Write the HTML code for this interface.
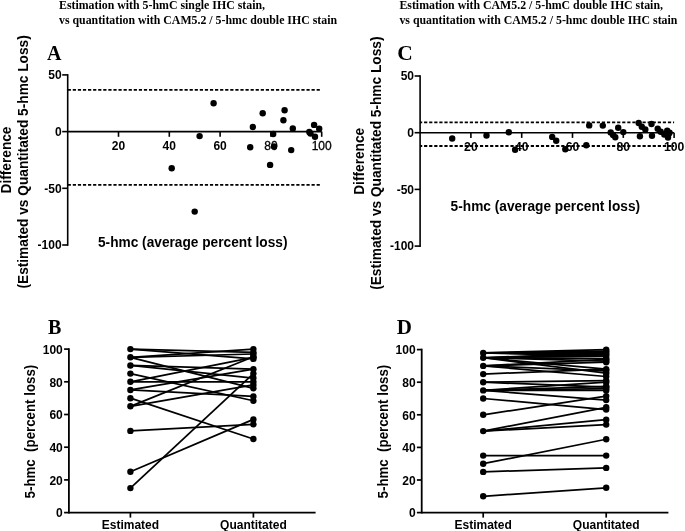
<!DOCTYPE html>
<html><head><meta charset="utf-8"><style>
html,body{margin:0;padding:0;background:#fff;}
svg{display:block;filter:grayscale(1);}
</style></head><body>
<svg width="685" height="531" viewBox="0 0 685 531" stroke="#000" fill="#000">
<rect x="0" y="0" width="685" height="531" fill="#fff" stroke="none"/>
<g stroke="none">
</g>
<text stroke="none" x="59.00" y="9.30" font-size="11.85" text-anchor="start" font-weight="bold" font-family='"Liberation Serif", serif' >Estimation with 5-hmC single IHC stain,</text>
<text stroke="none" x="59.00" y="24.20" font-size="11.85" text-anchor="start" font-weight="bold" font-family='"Liberation Serif", serif' >vs quantitation with CAM5.2 / 5-hmc double IHC stain</text>
<text stroke="none" x="399.40" y="9.30" font-size="11.85" text-anchor="start" font-weight="bold" font-family='"Liberation Serif", serif' >Estimation with CAM5.2 / 5-hmC double IHC stain,</text>
<text stroke="none" x="399.40" y="24.20" font-size="11.85" text-anchor="start" font-weight="bold" font-family='"Liberation Serif", serif' >vs quantitation with CAM5.2 / 5-hmc double IHC stain</text>
<text stroke="none" x="46.90" y="59.80" font-size="20" text-anchor="start" font-weight="bold" font-family='"Liberation Serif", serif' >A</text>
<line x1="67.70" y1="74.90" x2="67.70" y2="245.00" stroke-width="1.6" stroke-linecap="square"/>
<line x1="62.20" y1="74.90" x2="67.70" y2="74.90" stroke-width="1.6" />
<text stroke="none" x="61.60" y="79.20" font-size="12" text-anchor="end" font-weight="bold" font-family='"Liberation Sans", sans-serif' >50</text>
<line x1="62.20" y1="131.60" x2="67.70" y2="131.60" stroke-width="1.6" />
<text stroke="none" x="61.60" y="135.90" font-size="12" text-anchor="end" font-weight="bold" font-family='"Liberation Sans", sans-serif' >0</text>
<line x1="62.20" y1="188.30" x2="67.70" y2="188.30" stroke-width="1.6" />
<text stroke="none" x="61.60" y="192.60" font-size="12" text-anchor="end" font-weight="bold" font-family='"Liberation Sans", sans-serif' >-50</text>
<line x1="62.20" y1="245.00" x2="67.70" y2="245.00" stroke-width="1.6" />
<text stroke="none" x="61.60" y="249.30" font-size="12" text-anchor="end" font-weight="bold" font-family='"Liberation Sans", sans-serif' >-100</text>
<line x1="67.70" y1="131.60" x2="321.70" y2="131.60" stroke-width="1.6" />
<line x1="118.50" y1="131.60" x2="118.50" y2="136.80" stroke-width="1.6" />
<text stroke="none" x="118.50" y="149.60" font-size="12" text-anchor="middle" font-weight="bold" font-family='"Liberation Sans", sans-serif' >20</text>
<line x1="169.30" y1="131.60" x2="169.30" y2="136.80" stroke-width="1.6" />
<text stroke="none" x="169.30" y="149.60" font-size="12" text-anchor="middle" font-weight="bold" font-family='"Liberation Sans", sans-serif' >40</text>
<line x1="220.10" y1="131.60" x2="220.10" y2="136.80" stroke-width="1.6" />
<text stroke="none" x="220.10" y="149.60" font-size="12" text-anchor="middle" font-weight="bold" font-family='"Liberation Sans", sans-serif' >60</text>
<line x1="270.90" y1="131.60" x2="270.90" y2="136.80" stroke-width="1.6" />
<text x="270.90" y="149.60" font-size="12" text-anchor="middle" font-weight="normal" font-family='"Liberation Sans", sans-serif' stroke="#000" stroke-width="0.3">80</text>
<line x1="321.70" y1="131.60" x2="321.70" y2="136.80" stroke-width="1.6" />
<text x="321.70" y="149.60" font-size="12" text-anchor="middle" font-weight="normal" font-family='"Liberation Sans", sans-serif' stroke="#000" stroke-width="0.3">100</text>
<line x1="67.70" y1="89.90" x2="321.70" y2="89.90" stroke-width="1.8" stroke-dasharray="3.2 1.88" stroke-dashoffset="0"/>
<line x1="67.70" y1="184.80" x2="321.70" y2="184.80" stroke-width="1.8" stroke-dasharray="3.2 1.88" stroke-dashoffset="0"/>
<circle cx="213.6" cy="103.2" r="3.2" stroke="none"/>
<circle cx="199.6" cy="136.1" r="3.2" stroke="none"/>
<circle cx="171.7" cy="168.2" r="3.2" stroke="none"/>
<circle cx="194.7" cy="211.6" r="3.2" stroke="none"/>
<circle cx="262.7" cy="113.3" r="3.2" stroke="none"/>
<circle cx="284.6" cy="110.3" r="3.2" stroke="none"/>
<circle cx="283.4" cy="120.2" r="3.2" stroke="none"/>
<circle cx="252.9" cy="127.0" r="3.2" stroke="none"/>
<circle cx="273.2" cy="134.0" r="3.2" stroke="none"/>
<circle cx="250.2" cy="147.2" r="3.2" stroke="none"/>
<circle cx="274.0" cy="146.4" r="3.2" stroke="none"/>
<circle cx="270.1" cy="164.9" r="3.2" stroke="none"/>
<circle cx="291.2" cy="150.1" r="3.2" stroke="none"/>
<circle cx="292.8" cy="128.4" r="3.2" stroke="none"/>
<circle cx="314.1" cy="124.9" r="3.2" stroke="none"/>
<circle cx="319.2" cy="128.8" r="3.2" stroke="none"/>
<circle cx="309.3" cy="131.9" r="3.2" stroke="none"/>
<circle cx="310.5" cy="133.5" r="3.2" stroke="none"/>
<circle cx="315.0" cy="136.8" r="3.2" stroke="none"/>
<text stroke="none" x="397.20" y="60.10" font-size="21.5" text-anchor="start" font-weight="bold" font-family='"Liberation Serif", serif' >C</text>
<line x1="420.10" y1="76.00" x2="420.10" y2="246.10" stroke-width="1.6" stroke-linecap="square"/>
<line x1="414.60" y1="76.00" x2="420.10" y2="76.00" stroke-width="1.6" />
<text stroke="none" x="414.00" y="80.30" font-size="12" text-anchor="end" font-weight="bold" font-family='"Liberation Sans", sans-serif' >50</text>
<line x1="414.60" y1="132.70" x2="420.10" y2="132.70" stroke-width="1.6" />
<text stroke="none" x="414.00" y="137.00" font-size="12" text-anchor="end" font-weight="bold" font-family='"Liberation Sans", sans-serif' >0</text>
<line x1="414.60" y1="189.40" x2="420.10" y2="189.40" stroke-width="1.6" />
<text stroke="none" x="414.00" y="193.70" font-size="12" text-anchor="end" font-weight="bold" font-family='"Liberation Sans", sans-serif' >-50</text>
<line x1="414.60" y1="246.10" x2="420.10" y2="246.10" stroke-width="1.6" />
<text stroke="none" x="414.00" y="250.40" font-size="12" text-anchor="end" font-weight="bold" font-family='"Liberation Sans", sans-serif' >-100</text>
<line x1="420.10" y1="132.70" x2="674.10" y2="132.70" stroke-width="1.6" />
<line x1="470.90" y1="132.70" x2="470.90" y2="137.90" stroke-width="1.6" />
<text stroke="none" x="470.90" y="150.70" font-size="12.2" text-anchor="middle" font-weight="bold" font-family='"Liberation Sans", sans-serif' >20</text>
<line x1="521.70" y1="132.70" x2="521.70" y2="137.90" stroke-width="1.6" />
<text stroke="none" x="521.70" y="150.70" font-size="12.2" text-anchor="middle" font-weight="bold" font-family='"Liberation Sans", sans-serif' >40</text>
<line x1="572.50" y1="132.70" x2="572.50" y2="137.90" stroke-width="1.6" />
<text stroke="none" x="572.50" y="150.70" font-size="12.2" text-anchor="middle" font-weight="bold" font-family='"Liberation Sans", sans-serif' >60</text>
<line x1="623.30" y1="132.70" x2="623.30" y2="137.90" stroke-width="1.6" />
<text stroke="none" x="623.30" y="150.70" font-size="12.2" text-anchor="middle" font-weight="bold" font-family='"Liberation Sans", sans-serif' >80</text>
<line x1="674.10" y1="132.70" x2="674.10" y2="137.90" stroke-width="1.6" />
<text stroke="none" x="674.10" y="150.70" font-size="12.2" text-anchor="middle" font-weight="bold" font-family='"Liberation Sans", sans-serif' >100</text>
<line x1="420.10" y1="122.40" x2="674.10" y2="122.40" stroke-width="1.8" stroke-dasharray="3.2 1.88" stroke-dashoffset="1.1"/>
<line x1="420.10" y1="146.00" x2="674.10" y2="146.00" stroke-width="1.8" stroke-dasharray="3.2 1.88" stroke-dashoffset="1.1"/>
<circle cx="452.2" cy="138.5" r="3.2" stroke="none"/>
<circle cx="486.5" cy="135.5" r="3.2" stroke="none"/>
<circle cx="508.8" cy="132.3" r="3.2" stroke="none"/>
<circle cx="515.1" cy="149.8" r="3.2" stroke="none"/>
<circle cx="552.2" cy="136.9" r="3.2" stroke="none"/>
<circle cx="556.2" cy="140.7" r="3.2" stroke="none"/>
<circle cx="565.3" cy="149.3" r="3.2" stroke="none"/>
<circle cx="586.3" cy="145.2" r="3.2" stroke="none"/>
<circle cx="589.2" cy="125.4" r="3.2" stroke="none"/>
<circle cx="602.8" cy="125.6" r="3.2" stroke="none"/>
<circle cx="610.7" cy="132.4" r="3.2" stroke="none"/>
<circle cx="613.1" cy="134.9" r="3.2" stroke="none"/>
<circle cx="615.3" cy="137.2" r="3.2" stroke="none"/>
<circle cx="618.2" cy="127.7" r="3.2" stroke="none"/>
<circle cx="623.3" cy="132.1" r="3.2" stroke="none"/>
<circle cx="638.7" cy="123.0" r="3.2" stroke="none"/>
<circle cx="641.8" cy="126.7" r="3.2" stroke="none"/>
<circle cx="645.3" cy="129.5" r="3.2" stroke="none"/>
<circle cx="639.9" cy="136.2" r="3.2" stroke="none"/>
<circle cx="651.5" cy="124.0" r="3.2" stroke="none"/>
<circle cx="652.0" cy="135.8" r="3.2" stroke="none"/>
<circle cx="657.7" cy="128.8" r="3.2" stroke="none"/>
<circle cx="660.7" cy="131.8" r="3.2" stroke="none"/>
<circle cx="664.3" cy="134.5" r="3.2" stroke="none"/>
<circle cx="667.2" cy="130.7" r="3.2" stroke="none"/>
<circle cx="668.7" cy="134.0" r="3.2" stroke="none"/>
<circle cx="668.0" cy="137.6" r="3.2" stroke="none"/>
<circle cx="669.6" cy="132.6" r="3.2" stroke="none"/>
<g transform="translate(98.00,246.90) scale(1,1.1)">
<text stroke="none" x="0.00" y="0.00" font-size="13.7" text-anchor="start" font-weight="bold" font-family='"Liberation Sans", sans-serif' >5-hmc (average percent loss)</text>
</g>
<g transform="translate(11.30,160.00) rotate(-90) scale(1,1.1)">
<text stroke="none" x="0.00" y="0.00" font-size="13.7" text-anchor="middle" font-weight="bold" font-family='"Liberation Sans", sans-serif' >Difference</text>
</g>
<g transform="translate(28.30,161.90) rotate(-90) scale(1,1.1)">
<text stroke="none" x="0.00" y="0.00" font-size="13.7" text-anchor="middle" font-weight="bold" font-family='"Liberation Sans", sans-serif' >(Estimated vs Quantitated 5-hmc Loss)</text>
</g>
<g transform="translate(450.60,210.50) scale(1,1.1)">
<text stroke="none" x="0.00" y="0.00" font-size="13.7" text-anchor="start" font-weight="bold" font-family='"Liberation Sans", sans-serif' >5-hmc (average percent loss)</text>
</g>
<g transform="translate(363.90,161.30) rotate(-90) scale(1,1.1)">
<text stroke="none" x="0.00" y="0.00" font-size="13.7" text-anchor="middle" font-weight="bold" font-family='"Liberation Sans", sans-serif' >Difference</text>
</g>
<g transform="translate(380.90,163.20) rotate(-90) scale(1,1.1)">
<text stroke="none" x="0.00" y="0.00" font-size="13.7" text-anchor="middle" font-weight="bold" font-family='"Liberation Sans", sans-serif' >(Estimated vs Quantitated 5-hmc Loss)</text>
</g>
<text stroke="none" x="48.10" y="333.70" font-size="20" text-anchor="start" font-weight="bold" font-family='"Liberation Serif", serif' >B</text>
<line x1="68.90" y1="349.10" x2="68.90" y2="512.60" stroke-width="1.8" stroke-linecap="square"/>
<line x1="64.10" y1="512.60" x2="68.90" y2="512.60" stroke-width="1.7" />
<text stroke="none" x="62.80" y="517.40" font-size="12" text-anchor="end" font-weight="bold" font-family='"Liberation Sans", sans-serif' >0</text>
<line x1="64.10" y1="479.90" x2="68.90" y2="479.90" stroke-width="1.7" />
<text stroke="none" x="62.80" y="484.70" font-size="12" text-anchor="end" font-weight="bold" font-family='"Liberation Sans", sans-serif' >20</text>
<line x1="64.10" y1="447.20" x2="68.90" y2="447.20" stroke-width="1.7" />
<text stroke="none" x="62.80" y="452.00" font-size="12" text-anchor="end" font-weight="bold" font-family='"Liberation Sans", sans-serif' >40</text>
<line x1="64.10" y1="414.50" x2="68.90" y2="414.50" stroke-width="1.7" />
<text stroke="none" x="62.80" y="419.30" font-size="12" text-anchor="end" font-weight="bold" font-family='"Liberation Sans", sans-serif' >60</text>
<line x1="64.10" y1="381.80" x2="68.90" y2="381.80" stroke-width="1.7" />
<text stroke="none" x="62.80" y="386.60" font-size="12" text-anchor="end" font-weight="bold" font-family='"Liberation Sans", sans-serif' >80</text>
<line x1="64.10" y1="349.10" x2="68.90" y2="349.10" stroke-width="1.7" />
<text stroke="none" x="62.80" y="353.90" font-size="12" text-anchor="end" font-weight="bold" font-family='"Liberation Sans", sans-serif' >100</text>
<line x1="68.90" y1="512.60" x2="315.60" y2="512.60" stroke-width="1.8" />
<line x1="130.40" y1="512.60" x2="130.40" y2="517.60" stroke-width="1.7" />
<line x1="253.40" y1="512.60" x2="253.40" y2="517.60" stroke-width="1.7" />
<text stroke="none" x="130.40" y="529.00" font-size="12" text-anchor="middle" font-weight="bold" font-family='"Liberation Sans", sans-serif' >Estimated</text>
<text stroke="none" x="253.40" y="529.00" font-size="12" text-anchor="middle" font-weight="bold" font-family='"Liberation Sans", sans-serif' >Quantitated</text>
<g transform="translate(35.20,431.60) rotate(-90) scale(1,1.1)">
<text stroke="none" x="0.00" y="0.00" font-size="13.3" text-anchor="middle" font-weight="bold" font-family='"Liberation Sans", sans-serif' xml:space="preserve">5-hmc&#160;&#160;(percent loss)</text>
</g>
<line x1="130.40" y1="349.10" x2="253.40" y2="352.37" stroke-width="1.75" />
<line x1="130.40" y1="349.10" x2="253.40" y2="358.91" stroke-width="1.75" />
<line x1="130.40" y1="357.28" x2="253.40" y2="349.10" stroke-width="1.75" />
<line x1="130.40" y1="357.28" x2="253.40" y2="354.00" stroke-width="1.75" />
<line x1="130.40" y1="357.28" x2="253.40" y2="388.34" stroke-width="1.75" />
<line x1="130.40" y1="365.45" x2="253.40" y2="369.21" stroke-width="1.75" />
<line x1="130.40" y1="365.45" x2="253.40" y2="378.04" stroke-width="1.75" />
<line x1="130.40" y1="373.62" x2="253.40" y2="400.77" stroke-width="1.75" />
<line x1="130.40" y1="381.80" x2="253.40" y2="357.28" stroke-width="1.75" />
<line x1="130.40" y1="381.80" x2="253.40" y2="381.80" stroke-width="1.75" />
<line x1="130.40" y1="389.98" x2="253.40" y2="369.21" stroke-width="1.75" />
<line x1="130.40" y1="389.98" x2="253.40" y2="396.35" stroke-width="1.75" />
<line x1="130.40" y1="398.15" x2="253.40" y2="439.03" stroke-width="1.75" />
<line x1="130.40" y1="406.33" x2="253.40" y2="356.78" stroke-width="1.75" />
<line x1="130.40" y1="406.33" x2="253.40" y2="384.91" stroke-width="1.75" />
<line x1="130.40" y1="430.85" x2="253.40" y2="424.31" stroke-width="1.75" />
<line x1="130.40" y1="471.73" x2="253.40" y2="419.41" stroke-width="1.75" />
<line x1="130.40" y1="488.08" x2="253.40" y2="373.62" stroke-width="1.75" />
<circle cx="130.4" cy="488.1" r="3.2" stroke="none"/>
<circle cx="130.4" cy="471.7" r="3.2" stroke="none"/>
<circle cx="130.4" cy="430.9" r="3.2" stroke="none"/>
<circle cx="130.4" cy="406.3" r="3.2" stroke="none"/>
<circle cx="130.4" cy="398.2" r="3.2" stroke="none"/>
<circle cx="130.4" cy="390.0" r="3.2" stroke="none"/>
<circle cx="130.4" cy="381.8" r="3.2" stroke="none"/>
<circle cx="130.4" cy="373.6" r="3.2" stroke="none"/>
<circle cx="130.4" cy="365.5" r="3.2" stroke="none"/>
<circle cx="130.4" cy="357.3" r="3.2" stroke="none"/>
<circle cx="130.4" cy="349.1" r="3.2" stroke="none"/>
<circle cx="253.4" cy="439.0" r="3.2" stroke="none"/>
<circle cx="253.4" cy="424.3" r="3.2" stroke="none"/>
<circle cx="253.4" cy="419.4" r="3.2" stroke="none"/>
<circle cx="253.4" cy="400.8" r="3.2" stroke="none"/>
<circle cx="253.4" cy="396.4" r="3.2" stroke="none"/>
<circle cx="253.4" cy="388.3" r="3.2" stroke="none"/>
<circle cx="253.4" cy="384.9" r="3.2" stroke="none"/>
<circle cx="253.4" cy="381.8" r="3.2" stroke="none"/>
<circle cx="253.4" cy="378.0" r="3.2" stroke="none"/>
<circle cx="253.4" cy="373.6" r="3.2" stroke="none"/>
<circle cx="253.4" cy="369.2" r="3.2" stroke="none"/>
<circle cx="253.4" cy="358.9" r="3.2" stroke="none"/>
<circle cx="253.4" cy="357.3" r="3.2" stroke="none"/>
<circle cx="253.4" cy="356.8" r="3.2" stroke="none"/>
<circle cx="253.4" cy="354.0" r="3.2" stroke="none"/>
<circle cx="253.4" cy="352.4" r="3.2" stroke="none"/>
<circle cx="253.4" cy="349.1" r="3.2" stroke="none"/>
<text stroke="none" x="396.70" y="333.70" font-size="21" text-anchor="start" font-weight="bold" font-family='"Liberation Serif", serif' >D</text>
<line x1="421.70" y1="349.60" x2="421.70" y2="512.60" stroke-width="1.8" stroke-linecap="square"/>
<line x1="416.90" y1="512.60" x2="421.70" y2="512.60" stroke-width="1.7" />
<text stroke="none" x="415.60" y="517.40" font-size="12" text-anchor="end" font-weight="bold" font-family='"Liberation Sans", sans-serif' >0</text>
<line x1="416.90" y1="480.00" x2="421.70" y2="480.00" stroke-width="1.7" />
<text stroke="none" x="415.60" y="484.80" font-size="12" text-anchor="end" font-weight="bold" font-family='"Liberation Sans", sans-serif' >20</text>
<line x1="416.90" y1="447.40" x2="421.70" y2="447.40" stroke-width="1.7" />
<text stroke="none" x="415.60" y="452.20" font-size="12" text-anchor="end" font-weight="bold" font-family='"Liberation Sans", sans-serif' >40</text>
<line x1="416.90" y1="414.80" x2="421.70" y2="414.80" stroke-width="1.7" />
<text stroke="none" x="415.60" y="419.60" font-size="12" text-anchor="end" font-weight="bold" font-family='"Liberation Sans", sans-serif' >60</text>
<line x1="416.90" y1="382.20" x2="421.70" y2="382.20" stroke-width="1.7" />
<text stroke="none" x="415.60" y="387.00" font-size="12" text-anchor="end" font-weight="bold" font-family='"Liberation Sans", sans-serif' >80</text>
<line x1="416.90" y1="349.60" x2="421.70" y2="349.60" stroke-width="1.7" />
<text stroke="none" x="415.60" y="354.40" font-size="12" text-anchor="end" font-weight="bold" font-family='"Liberation Sans", sans-serif' >100</text>
<line x1="421.70" y1="512.60" x2="668.40" y2="512.60" stroke-width="1.8" />
<line x1="483.20" y1="512.60" x2="483.20" y2="517.60" stroke-width="1.7" />
<line x1="606.20" y1="512.60" x2="606.20" y2="517.60" stroke-width="1.7" />
<text stroke="none" x="483.20" y="529.00" font-size="12" text-anchor="middle" font-weight="bold" font-family='"Liberation Sans", sans-serif' >Estimated</text>
<text stroke="none" x="606.20" y="529.00" font-size="12" text-anchor="middle" font-weight="bold" font-family='"Liberation Sans", sans-serif' >Quantitated</text>
<g transform="translate(388.00,431.60) rotate(-90) scale(1,1.1)">
<text stroke="none" x="0.00" y="0.00" font-size="13.3" text-anchor="middle" font-weight="bold" font-family='"Liberation Sans", sans-serif' xml:space="preserve">5-hmc&#160;&#160;(percent loss)</text>
</g>
<line x1="483.20" y1="352.86" x2="606.20" y2="349.60" stroke-width="1.75" />
<line x1="483.20" y1="352.86" x2="606.20" y2="351.23" stroke-width="1.75" />
<line x1="483.20" y1="352.86" x2="606.20" y2="352.86" stroke-width="1.75" />
<line x1="483.20" y1="352.86" x2="606.20" y2="354.49" stroke-width="1.75" />
<line x1="483.20" y1="352.86" x2="606.20" y2="356.12" stroke-width="1.75" />
<line x1="483.20" y1="357.75" x2="606.20" y2="352.86" stroke-width="1.75" />
<line x1="483.20" y1="357.75" x2="606.20" y2="354.49" stroke-width="1.75" />
<line x1="483.20" y1="357.75" x2="606.20" y2="356.12" stroke-width="1.75" />
<line x1="483.20" y1="357.75" x2="606.20" y2="358.57" stroke-width="1.75" />
<line x1="483.20" y1="357.75" x2="606.20" y2="361.01" stroke-width="1.75" />
<line x1="483.20" y1="357.75" x2="606.20" y2="369.16" stroke-width="1.75" />
<line x1="483.20" y1="357.75" x2="606.20" y2="373.24" stroke-width="1.75" />
<line x1="483.20" y1="365.90" x2="606.20" y2="359.38" stroke-width="1.75" />
<line x1="483.20" y1="365.90" x2="606.20" y2="362.15" stroke-width="1.75" />
<line x1="483.20" y1="365.90" x2="606.20" y2="370.79" stroke-width="1.75" />
<line x1="483.20" y1="365.90" x2="606.20" y2="376.50" stroke-width="1.75" />
<line x1="483.20" y1="374.05" x2="606.20" y2="369.16" stroke-width="1.75" />
<line x1="483.20" y1="382.20" x2="606.20" y2="380.57" stroke-width="1.75" />
<line x1="483.20" y1="382.20" x2="606.20" y2="387.09" stroke-width="1.75" />
<line x1="483.20" y1="390.35" x2="606.20" y2="382.20" stroke-width="1.75" />
<line x1="483.20" y1="390.35" x2="606.20" y2="386.28" stroke-width="1.75" />
<line x1="483.20" y1="390.35" x2="606.20" y2="388.72" stroke-width="1.75" />
<line x1="483.20" y1="390.35" x2="606.20" y2="390.35" stroke-width="1.75" />
<line x1="483.20" y1="390.35" x2="606.20" y2="400.13" stroke-width="1.75" />
<line x1="483.20" y1="398.50" x2="606.20" y2="409.58" stroke-width="1.75" />
<line x1="483.20" y1="414.80" x2="606.20" y2="396.06" stroke-width="1.75" />
<line x1="483.20" y1="431.10" x2="606.20" y2="424.58" stroke-width="1.75" />
<line x1="483.20" y1="431.10" x2="606.20" y2="419.69" stroke-width="1.75" />
<line x1="483.20" y1="431.10" x2="606.20" y2="407.30" stroke-width="1.75" />
<line x1="483.20" y1="455.55" x2="606.20" y2="455.55" stroke-width="1.75" />
<line x1="483.20" y1="463.70" x2="606.20" y2="439.25" stroke-width="1.75" />
<line x1="483.20" y1="471.85" x2="606.20" y2="467.94" stroke-width="1.75" />
<line x1="483.20" y1="496.30" x2="606.20" y2="487.82" stroke-width="1.75" />
<circle cx="483.2" cy="496.3" r="3.2" stroke="none"/>
<circle cx="483.2" cy="471.9" r="3.2" stroke="none"/>
<circle cx="483.2" cy="463.7" r="3.2" stroke="none"/>
<circle cx="483.2" cy="455.6" r="3.2" stroke="none"/>
<circle cx="483.2" cy="431.1" r="3.2" stroke="none"/>
<circle cx="483.2" cy="414.8" r="3.2" stroke="none"/>
<circle cx="483.2" cy="398.5" r="3.2" stroke="none"/>
<circle cx="483.2" cy="390.4" r="3.2" stroke="none"/>
<circle cx="483.2" cy="382.2" r="3.2" stroke="none"/>
<circle cx="483.2" cy="374.1" r="3.2" stroke="none"/>
<circle cx="483.2" cy="365.9" r="3.2" stroke="none"/>
<circle cx="483.2" cy="357.8" r="3.2" stroke="none"/>
<circle cx="483.2" cy="352.9" r="3.2" stroke="none"/>
<circle cx="606.2" cy="487.8" r="3.2" stroke="none"/>
<circle cx="606.2" cy="467.9" r="3.2" stroke="none"/>
<circle cx="606.2" cy="455.6" r="3.2" stroke="none"/>
<circle cx="606.2" cy="439.2" r="3.2" stroke="none"/>
<circle cx="606.2" cy="424.6" r="3.2" stroke="none"/>
<circle cx="606.2" cy="419.7" r="3.2" stroke="none"/>
<circle cx="606.2" cy="409.6" r="3.2" stroke="none"/>
<circle cx="606.2" cy="407.3" r="3.2" stroke="none"/>
<circle cx="606.2" cy="400.1" r="3.2" stroke="none"/>
<circle cx="606.2" cy="396.1" r="3.2" stroke="none"/>
<circle cx="606.2" cy="390.4" r="3.2" stroke="none"/>
<circle cx="606.2" cy="388.7" r="3.2" stroke="none"/>
<circle cx="606.2" cy="387.1" r="3.2" stroke="none"/>
<circle cx="606.2" cy="386.3" r="3.2" stroke="none"/>
<circle cx="606.2" cy="382.2" r="3.2" stroke="none"/>
<circle cx="606.2" cy="380.6" r="3.2" stroke="none"/>
<circle cx="606.2" cy="376.5" r="3.2" stroke="none"/>
<circle cx="606.2" cy="373.2" r="3.2" stroke="none"/>
<circle cx="606.2" cy="370.8" r="3.2" stroke="none"/>
<circle cx="606.2" cy="369.2" r="3.2" stroke="none"/>
<circle cx="606.2" cy="362.2" r="3.2" stroke="none"/>
<circle cx="606.2" cy="361.0" r="3.2" stroke="none"/>
<circle cx="606.2" cy="359.4" r="3.2" stroke="none"/>
<circle cx="606.2" cy="358.6" r="3.2" stroke="none"/>
<circle cx="606.2" cy="356.1" r="3.2" stroke="none"/>
<circle cx="606.2" cy="354.5" r="3.2" stroke="none"/>
<circle cx="606.2" cy="352.9" r="3.2" stroke="none"/>
<circle cx="606.2" cy="351.2" r="3.2" stroke="none"/>
<circle cx="606.2" cy="349.6" r="3.2" stroke="none"/>
</svg>
</body></html>
